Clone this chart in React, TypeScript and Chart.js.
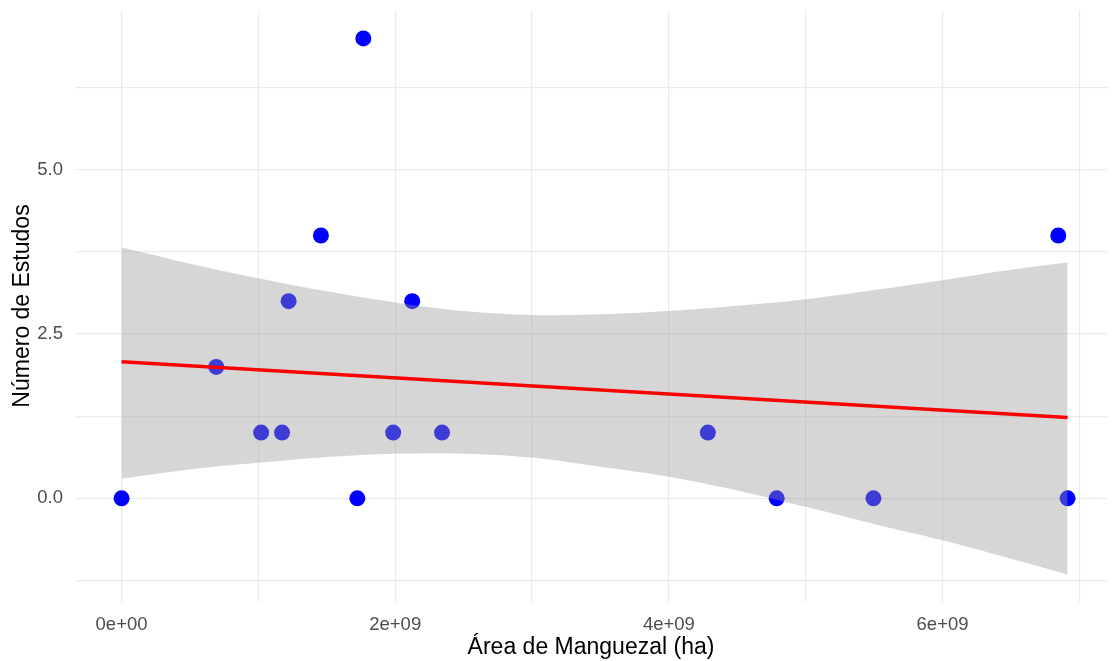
import React, { useEffect, useRef } from "react";
import { Chart, registerables } from "chart.js";

Chart.register(...registerables);

// Observed points (x = mangrove area in ha, y = number of studies)
const areaValues = [0, 0.692e9, 1.02e9, 1.173e9, 1.221e9, 1.457e9, 1.723e9, 1.767e9, 1.985e9, 2.124e9, 2.342e9, 4.285e9, 4.788e9, 5.495e9, 6.846e9, 6.914e9];
const studyCounts = [0, 2, 1, 1, 3, 4, 0, 7, 1, 3, 1, 1, 0, 0, 4, 0];

// Linear fit (red line)
const fitX = [0, 6.914e9];
const fitY = [2.08, 1.23];

// Confidence band
const bandX = [0, 0.5e9, 1.0e9, 1.5e9, 2.0e9, 2.5e9, 3.0e9, 3.5e9, 4.0e9, 4.5e9, 5.0e9, 5.5e9, 6.0e9, 6.5e9, 6.914e9];
const bandUpper = [3.82, 3.57, 3.35, 3.15, 2.98, 2.85, 2.79, 2.80, 2.85, 2.93, 3.03, 3.17, 3.32, 3.48, 3.59];
const bandLower = [0.30, 0.44, 0.54, 0.63, 0.68, 0.68, 0.62, 0.48, 0.33, 0.12, -0.13, -0.39, -0.64, -0.92, -1.16];

// Axis ticks
const xGridValues = [0, 1e9, 2e9, 3e9, 4e9, 5e9, 6e9, 7e9];
const xTickValues = [0, 2e9, 4e9, 6e9];
const xTickLabels = ["0e+00", "2e+09", "4e+09", "6e+09"];
const yGridValues = [-1.25, 0, 1.25, 2.5, 3.75, 5, 6.25];
const yTickValues = [0, 2.5, 5];
const yTickLabels = ["0.0", "2.5", "5.0"];

const FONT = "'Liberation Sans', Arial, sans-serif";

export default function App() {
  const ref = useRef<HTMLCanvasElement | null>(null);

  useEffect(() => {
    if (!ref.current) return;
    const pts = (xs: number[], ys: number[]) => xs.map((x, i) => ({ x, y: ys[i] }));
    const chart = new Chart(ref.current, {
      type: "line",
      data: {
        datasets: [
          {
            label: "fit",
            data: pts(fitX, fitY),
            borderColor: "#FF0000",
            borderWidth: 3.5,
            pointRadius: 0,
            fill: false,
            order: 0,
          },
          {
            label: "upper",
            data: pts(bandX, bandUpper),
            borderWidth: 0,
            borderColor: "rgba(0,0,0,0)",
            pointRadius: 0,
            tension: 0.35,
            backgroundColor: "rgba(153,153,153,0.4)",
            fill: 2,
            order: 1,
          },
          {
            label: "lower",
            data: pts(bandX, bandLower),
            borderWidth: 0,
            borderColor: "rgba(0,0,0,0)",
            pointRadius: 0,
            tension: 0.35,
            fill: false,
            order: 2,
          },
          {
            label: "points",
            data: pts(areaValues, studyCounts),
            showLine: false,
            pointRadius: 8,
            pointHoverRadius: 8,
            pointBackgroundColor: "#0000FF",
            pointBorderWidth: 0,
            borderWidth: 0,
            order: 3,
          },
        ],
      },
      options: {
        animation: false,
        responsive: false,
        events: [],
        layout: { padding: { top: 10, right: 0, left: 0, bottom: 0 } },
        plugins: { legend: { display: false }, tooltip: { enabled: false } },
        scales: {
          x: {
            type: "linear",
            min: -0.3403e9,
            max: 7.202e9,
            border: { display: false },
            grid: { color: "#EBEBEB", lineWidth: 1.2, drawTicks: false },
            afterBuildTicks: (s: any) => {
              s.ticks = xGridValues.map((v) => ({ value: v }));
            },
            afterFit: (s: any) => {
              s.height = 59;
              s.paddingLeft = 0;
              s.paddingRight = 0;
            },
            ticks: {
              autoSkip: false,
              maxRotation: 0,
              padding: 12,
              color: "#4D4D4D",
              font: { family: FONT, size: 18.5 },
              callback: (v: any) => {
                const i = xTickValues.indexOf(Number(v));
                return i >= 0 ? xTickLabels[i] : "";
              },
            },
            title: {
              display: true,
              text: "Área de Manguezal (ha)",
              color: "#000000",
              padding: { top: 0, bottom: 0 },
              font: { family: FONT, size: 23 },
            },
          },
          y: {
            type: "linear",
            min: -1.578,
            max: 7.432,
            border: { display: false },
            grid: { color: "#EBEBEB", lineWidth: 1.2, drawTicks: false },
            afterBuildTicks: (s: any) => {
              s.ticks = yGridValues.map((v) => ({ value: v }));
            },
            afterFit: (s: any) => {
              s.width = 75;
              s.paddingTop = 0;
              s.paddingBottom = 0;
            },
            ticks: {
              autoSkip: false,
              padding: 12,
              color: "#4D4D4D",
              font: { family: FONT, size: 18.5 },
              callback: (v: any) => {
                const i = yTickValues.indexOf(Number(v));
                return i >= 0 ? yTickLabels[i] : "";
              },
            },
            title: {
              display: true,
              text: "Número de Estudos",
              color: "#000000",
              padding: { top: 9, bottom: 0 },
              font: { family: FONT, size: 23 },
            },
          },
        },
      },
    } as any);
    return () => chart.destroy();
  }, []);

  return (
    <div style={{ position: "absolute", left: 0, top: 0, width: 1115, height: 661, background: "#FFFFFF" }}>
      <canvas ref={ref} width={1115} height={661} style={{ display: "block" }} />
    </div>
  );
}
